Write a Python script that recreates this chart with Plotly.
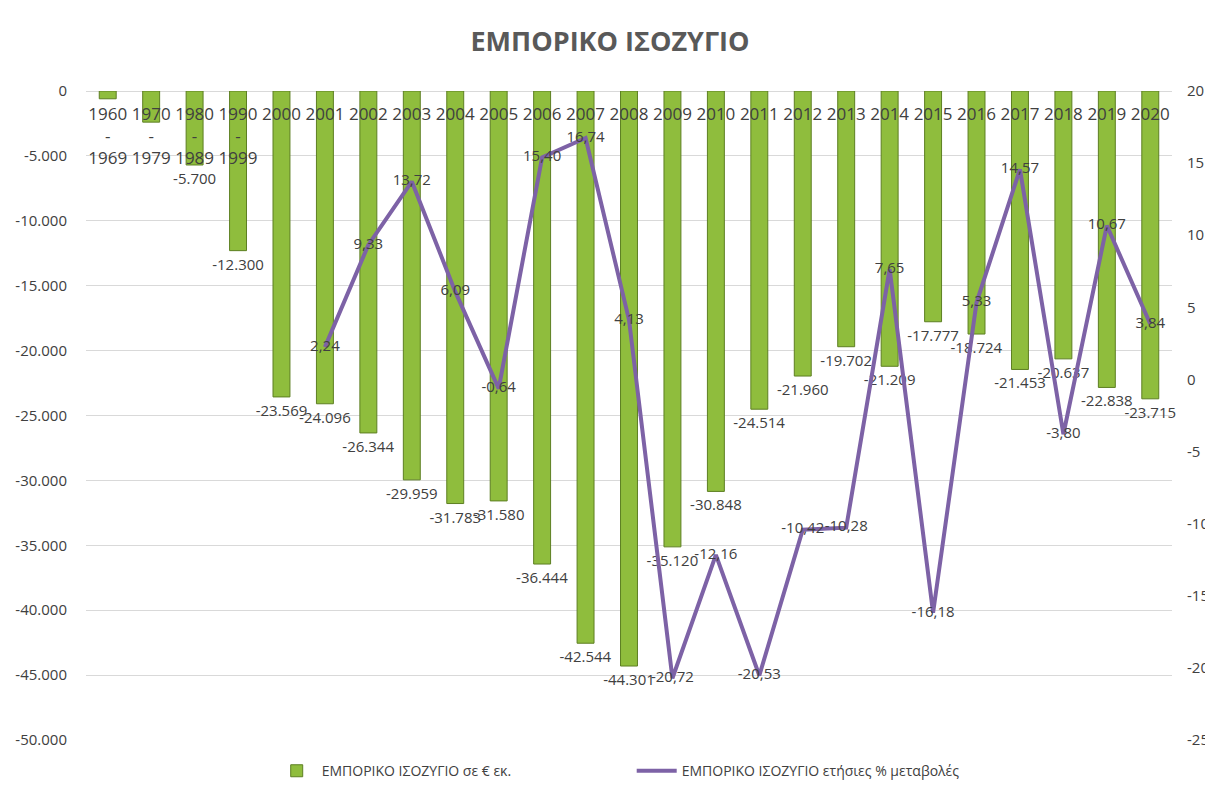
import plotly.graph_objects as go

categories = ["1960<br>-<br>1969", "1970<br>-<br>1979", "1980<br>-<br>1989", "1990<br>-<br>1999",
              "2000", "2001", "2002", "2003", "2004", "2005", "2006", "2007", "2008", "2009",
              "2010", "2011", "2012", "2013", "2014", "2015", "2016", "2017", "2018", "2019", "2020"]
balance = [-600, -2400, -5700, -12300, -23569, -24096, -26344, -29959, -31783, -31580,
           -36444, -42544, -44301, -35120, -30848, -24514, -21960, -19702, -21209, -17777,
           -18724, -21453, -20637, -22838, -23715]
show_bar_label = [False, False, True, True] + [True] * 21
pct_change = [None, None, None, None, None, 2.24, 9.33, 13.72, 6.09, -0.64, 15.40, 16.74, 4.13,
              -20.72, -12.16, -20.53, -10.42, -10.28, 7.65, -16.18, 5.33, 14.57, -3.80, 10.67, 3.84]
left_ticks = [0, -5000, -10000, -15000, -20000, -25000, -30000, -35000, -40000, -45000, -50000]
left_tick_text = ["0", "-5.000", "-10.000", "-15.000", "-20.000", "-25.000", "-30.000",
                  "-35.000", "-40.000", "-45.000", "-50.000"]
right_ticks = [20, 15, 10, 5, 0, -5, -10, -15, -20, -25]
right_tick_text = ["20", "15", "10", "5", "0", "-5", "-10", "-15", "-20", "-25"]

bar_text = [f"{v:,}".replace(",", ".") if s else "" for v, s in zip(balance, show_bar_label)]
line_text = ["" if v is None else f"{v:.2f}".replace(".", ",") for v in pct_change]

FONT = "Open Sans, Noto Sans, sans-serif"
TXT = "#404040"

fig = go.Figure()
fig.add_trace(go.Bar(
    x=categories, y=balance, name="ΕΜΠΟΡΙΚΟ ΙΣΟΖΥΓΙΟ σε € εκ.",
    marker=dict(color="#8fbd3d", line=dict(color="#5d7f22", width=1)),
    text=bar_text, textposition="outside", cliponaxis=False, constraintext="none",
    textfont=dict(size=15, color=TXT, family=FONT),
))
fig.add_trace(go.Scatter(
    x=categories, y=pct_change, name="ΕΜΠΟΡΙΚΟ ΙΣΟΖΥΓΙΟ ετήσιες % μεταβολές",
    yaxis="y2", mode="lines+text", line=dict(color="#7d62a6", width=4),
    text=line_text, textposition="middle center", cliponaxis=False,
    textfont=dict(size=15, color=TXT, family=FONT),
))

# page has an 8px body margin, so the figure is sized/positioned to compensate
fig.update_layout(
    width=1205, height=781,
    paper_bgcolor="white", plot_bgcolor="white",
    margin=dict(l=78, r=41, t=83, b=49, autoexpand=False),
    title=dict(text="<b>ΕΜΠΟΡΙΚΟ ΙΣΟΖΥΓΙΟ</b>", x=0.4996, xanchor="center", y=0.957, yanchor="middle",
               font=dict(size=27, color="#595959", family=FONT)),
    font=dict(family=FONT, color=TXT, size=15),
    bargap=0.61,
    showlegend=True,
    legend=dict(orientation="h", x=0.171, xanchor="left", y=-0.048, yanchor="middle",
                font=dict(size=14, color=TXT, family=FONT), itemwidth=40,
                entrywidth=305),
    xaxis=dict(side="bottom", anchor="free", position=1, showgrid=False, showline=False,
               range=[-0.5, len(categories) - 0.5],
               ticks="", tickfont=dict(size=17, color=TXT, family=FONT), tickangle=0,
               ticklabelstandoff=11, automargin=False),
    yaxis=dict(range=[-50000, 0], tickvals=left_ticks, ticktext=left_tick_text,
               showgrid=True, gridcolor="#d9d9d9", gridwidth=1, zeroline=True,
               zerolinecolor="#d9d9d9", zerolinewidth=1, showline=False, automargin=False,
               tickfont=dict(size=15, color=TXT, family=FONT), ticklabelstandoff=18),
    yaxis2=dict(range=[-25, 20], tickvals=right_ticks, ticktext=right_tick_text,
                overlaying="y", side="right", showgrid=False, zeroline=False, showline=False,
                automargin=False,
                tickfont=dict(size=15, color=TXT, family=FONT), ticklabelstandoff=14),
)

fig.write_html("out.html")
